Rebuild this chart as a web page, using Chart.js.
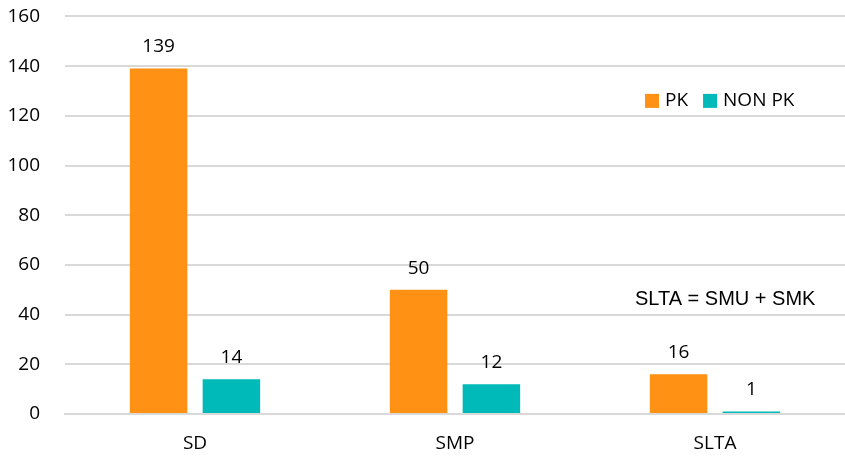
<!DOCTYPE html>
<html>
<head>
<meta charset="utf-8">
<script src="https://cdn.jsdelivr.net/npm/chart.js@4"></script>
<style>
  html, body { margin: 0; padding: 0; background: #fff; overflow: hidden; }
  #wrap { width: 845px; height: 477px; margin-top: -20px; }
</style>
</head>
<body>
<div id="wrap"><canvas id="myChart"></canvas></div>
<script>
// data
const categories = ['SD', 'SMP', 'SLTA'];
const pkValues = [139, 50, 16];
const nonPkValues = [14, 12, 1];
const seriesNames = ['PK', 'NON PK'];
const yTicks = [0, 20, 40, 60, 80, 100, 120, 140, 160];
const note = 'SLTA = SMU + SMK';

const FONT = 'Open Sans';

// labels on top of bars + legend and note inside the plot
const labelsPlugin = {
    id: 'labelsPlugin',
    afterDatasetsDraw(chart) {
        const ctx = chart.ctx;
        ctx.save();
        ctx.font = '19px "' + FONT + '"';
        ctx.fillStyle = '#000';
        ctx.textAlign = 'center';
        ctx.textBaseline = 'bottom';
        chart.data.datasets.forEach((ds, i) => {
            chart.getDatasetMeta(i).data.forEach((bar, j) => {
                ctx.fillText(ds.data[j], bar.x, bar.y - 12);
            });
        });

        // legend
        const area = chart.chartArea;
        ctx.textAlign = 'left';
        ctx.textBaseline = 'middle';
        let x = area.right - 200;
        const y = chart.scales.y.getPixelForValue(126);
        chart.data.datasets.forEach(ds => {
            ctx.fillStyle = ds.backgroundColor;
            ctx.fillRect(x, y - 7, 14, 14);
            ctx.fillStyle = '#000';
            ctx.fillText(ds.label, x + 20, y);
            x += 20 + ctx.measureText(ds.label).width + 15;
        });

        // note
        ctx.font = '20px "Liberation Sans"';
        ctx.textBaseline = 'middle';
        ctx.fillText(note, area.right - 210, chart.scales.y.getPixelForValue(46));
        ctx.restore();
    }
};

const ctx = document.getElementById('myChart').getContext('2d');
new Chart(ctx, {
    type: 'bar',
    data: {
        labels: categories,
        datasets: [{
            label: seriesNames[0],
            data: pkValues,
            backgroundColor: '#FF9214',
            categoryPercentage: 0.56,
            barPercentage: 0.79
        }, {
            label: seriesNames[1],
            data: nonPkValues,
            backgroundColor: '#00B9B9',
            categoryPercentage: 0.56,
            barPercentage: 0.79
        }]
    },
    options: {
        responsive: true,
        maintainAspectRatio: false,
        animation: false,
        plugins: {
            legend: { display: false },
            tooltip: { enabled: false }
        },
        scales: {
            x: {
                grid: { display: false },
                border: { color: '#D9D9D9', width: 2 },
                ticks: { color: '#000', font: { family: FONT, size: 19 }, padding: 10 },
                afterFit(scale) { scale.height = 43; }
            },
            y: {
                min: 0,
                max: 160,
                afterBuildTicks(scale) { scale.ticks = yTicks.map(v => ({ value: v })); },
                grid: { color: '#D9D9D9', lineWidth: 2, drawTicks: false },
                border: { display: false },
                ticks: { color: '#000', font: { family: FONT, size: 19 }, padding: 25 },
                afterFit(scale) { scale.width = 65; }
            }
        }
    },
    plugins: [labelsPlugin]
});
</script>
</body>
</html>
